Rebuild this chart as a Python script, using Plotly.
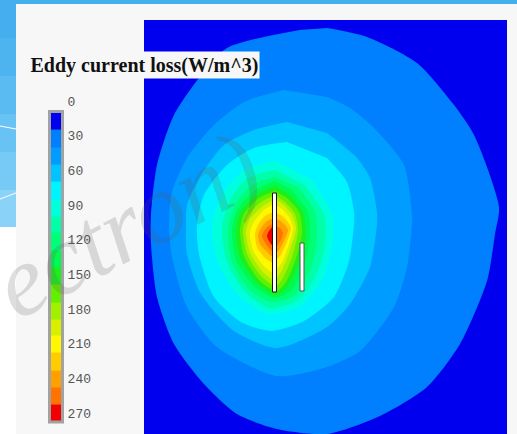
import plotly.graph_objects as go

W, H = 517, 434

# legend
legend_ticks = [0, 30, 60, 90, 120, 150, 180, 210, 240, 270]
legend_edges = [10, 25, 40, 55, 70, 85, 100, 114, 129, 144, 159, 174, 189, 203, 218, 233, 248, 263, 277]
band_colors = ["#0000ee", "#0080ff", "#009cff", "#00c4ff", "#00f4ff", "#00ffdc", "#00ffa8", "#00ff78",
               "#00fa50", "#1cf01c", "#62f000", "#a0f000", "#d8f000", "#fff800", "#ffcc00", "#ffa000",
               "#ff7400", "#f00000"]
band_values = [7, 22, 37, 52, 67, 82, 97, 112, 127, 142, 157, 172, 187, 202, 217, 232, 247, 262]

# level boundaries (image coordinates), outermost first
b15_x = [300, 227, 199, 174, 157, 151, 151, 157, 174, 204, 237, 277, 327, 380, 427, 460, 487, 495, 499, 474, 454, 417, 367, 327]
b15_y = [30, 48, 78, 115, 165, 215, 244, 297, 344, 384, 414, 429, 434, 416, 387, 344, 281, 234, 207, 135, 105, 63, 37, 28]
b30_x = [284, 244, 214, 187, 172, 169, 172, 187, 217, 277, 327, 360, 394, 407, 412, 412, 404, 374, 350, 327]
b30_y = [90, 102, 125, 158, 192, 225, 257, 307, 347, 376, 367, 351, 307, 267, 224, 215, 165, 128, 108, 97]
b45_x = [287, 254, 224, 201, 187, 186, 187, 201, 234, 277, 327, 350, 370, 377, 377, 370, 357, 327]
b45_y = [122, 130, 145, 175, 205, 225, 254, 294, 331, 348, 327, 304, 267, 224, 212, 178, 158, 133]
b60_x = [287, 254, 227, 204, 197, 199, 214, 241, 271, 304, 334, 349, 354, 354, 347, 327]
b60_y = [142, 148, 165, 195, 225, 254, 297, 322, 331, 321, 297, 261, 224, 212, 182, 158]
b75_x = [275, 245, 222, 212, 218, 238, 268, 300, 322, 332, 332, 312]
b75_y = [161, 170, 195, 228, 262, 295, 314, 306, 280, 245, 215, 180]
b90_x = [275, 248, 230, 222, 227, 245, 270, 298, 316, 325, 324, 305]
b90_y = [170, 178, 200, 228, 262, 292, 308, 300, 275, 245, 215, 185]
b105_x = [275, 252, 235, 228, 232, 250, 272, 294, 310, 317, 315, 298]
b105_y = [177, 185, 205, 230, 262, 290, 302, 296, 270, 240, 212, 187]
b120_x = [275, 255, 238, 232, 236, 255, 275, 292, 305, 310, 308, 292]
b120_y = [181, 190, 208, 230, 260, 287, 298, 290, 262, 240, 212, 190]
b135_x = [275, 257, 241, 236, 240, 258, 276, 288, 300, 306, 303, 289]
b135_y = [186, 194, 211, 230, 258, 284, 295, 286, 260, 236, 212, 194]
b150_x = [275, 259, 244, 240, 244, 260, 277, 286, 296, 302, 299, 287]
b150_y = [191, 198, 214, 230, 256, 281, 291, 282, 258, 232, 212, 198]
b165_x = [275, 261, 247, 243, 247, 261, 276, 284, 293, 298, 295, 285]
b165_y = [195, 202, 217, 230, 254, 276, 286, 276, 254, 230, 214, 202]
b180_x = [275, 263, 250, 246, 250, 262, 274, 282, 290, 296, 292, 284]
b180_y = [199, 206, 219, 232, 252, 271, 280, 270, 250, 228, 215, 205]
b195_x = [274, 264, 254, 250, 253, 263, 272, 281, 288, 293, 289, 282]
b195_y = [204, 210, 222, 233, 250, 265, 272, 264, 247, 228, 217, 209]
b210_x = [274, 265, 258, 255, 257, 265, 272, 280, 286, 291, 287, 281]
b210_y = [212, 216, 225, 234, 247, 258, 262, 256, 244, 228, 221, 215]
b225_x = [274, 267, 261, 258, 260, 267, 272, 279, 284, 288, 284, 279]
b225_y = [218, 221, 228, 235, 244, 252, 256, 250, 241, 230, 224, 220]
b240_x = [272, 267, 264, 262, 264, 268, 272, 277, 281, 283, 280, 276]
b240_y = [224, 227, 231, 236, 241, 247, 251, 246, 240, 233, 228, 226]
b255_x = [272, 269, 267, 269, 272, 275, 276, 275]
b255_y = [227, 231, 236, 241, 245, 241, 235, 231]

boundaries = [(b15_x, b15_y), (b30_x, b30_y), (b45_x, b45_y), (b60_x, b60_y), (b75_x, b75_y), (b90_x, b90_y),
              (b105_x, b105_y), (b120_x, b120_y), (b135_x, b135_y), (b150_x, b150_y), (b165_x, b165_y),
              (b180_x, b180_y), (b195_x, b195_y), (b210_x, b210_y), (b225_x, b225_y), (b240_x, b240_y),
              (b255_x, b255_y)]

def px(x):
    return x / W
def py(y):
    return 1 - y / H

fig = go.Figure()

for i, (bx, by) in enumerate(boundaries):
    fig.add_trace(go.Scatter(x=bx, y=by, mode="lines", fill="toself", fillcolor=band_colors[i + 1],
                             line=dict(width=0, shape="spline", smoothing=0.7),
                             hoverinfo="skip", showlegend=False))

fig.add_trace(go.Heatmap(x=[0, 1], y=legend_edges, z=[[v] for v in band_values], xaxis="x2", yaxis="y2",
                         colorscale=[[i / 17, c] for i, c in enumerate(band_colors)],
                         zmin=band_values[0], zmax=band_values[-1], showscale=False, hoverinfo="skip"))

panel = "#f7f7f7"
shapes = []
# slide backdrop
strip = ["#44aeee", "#4db4f0", "#5abaf2", "#68c2f4", "#78caf6", "#8ad2f8"]
for k, c in enumerate(strip):
    shapes.append(dict(type="rect", xref="paper", yref="paper", layer="below", x0=0, x1=px(16),
                       y0=py(k * 38), y1=py(min((k + 1) * 38, 227)), fillcolor=c, line_width=0))
shapes.append(dict(type="rect", xref="paper", yref="paper", layer="below", x0=0, x1=1, y0=py(0), y1=py(4),
                   fillcolor="#44aeee", line_width=0))
shapes.append(dict(type="rect", xref="paper", yref="paper", layer="below", x0=0, x1=px(16), y0=py(227), y1=py(H),
                   fillcolor="#ffffff", line_width=0))
for (a, b) in [(126, 129), (199, 193)]:
    shapes.append(dict(type="line", xref="paper", yref="paper", layer="below", x0=0, x1=px(16), y0=py(a), y1=py(b),
                       line=dict(color="#ffffff", width=1)))
# field background
shapes.append(dict(type="rect", xref="paper", yref="paper", layer="below", x0=px(144), x1=px(507), y0=0, y1=py(20),
                   fillcolor="#0000ee", line_width=0))
# legend frame
shapes.append(dict(type="rect", xref="paper", yref="paper", layer="above", x0=px(49.5), x1=px(62.5),
                   y0=py(111.5), y1=py(422), line=dict(color="#a2a2a2", width=3), fillcolor="rgba(0,0,0,0)"))
# conductors
shapes.append(dict(type="rect", xref="x", yref="y", layer="above", x0=272.5, x1=276.5, y0=193, y1=292,
                   fillcolor="#ffffff", line=dict(color="#111111", width=1)))
shapes.append(dict(type="rect", xref="x", yref="y", layer="above", x0=300, x1=304, y0=243, y1=291,
                   fillcolor="#ffffff", line=dict(color="#555555", width=1)))

annotations = [
    dict(text="ectron)", x=px(127), y=py(224), xref="paper", yref="paper", showarrow=False, textangle=-28,
         font=dict(family="Liberation Serif", size=100, color="rgba(90,90,90,0.2)", style="italic"),
         xanchor="center", yanchor="middle"),
    dict(text="<b>Eddy current loss(W/m^3)</b>", x=px(144), y=py(65), xref="paper", yref="paper", showarrow=False,
         font=dict(family="Liberation Serif", size=20, color="#111111"), bgcolor=panel, xanchor="center",
         yanchor="middle", width=229, height=26, borderpad=0),
]

fig.update_layout(
    width=W, height=H, margin=dict(l=0, r=0, t=0, b=0), autosize=False,
    paper_bgcolor=panel, plot_bgcolor="rgba(0,0,0,0)", showlegend=False, hovermode=False,
    shapes=shapes, annotations=annotations,
    xaxis=dict(domain=[px(144), px(507)], range=[144, 507], visible=False, fixedrange=True),
    yaxis=dict(domain=[0, py(20)], range=[434, 20], visible=False, fixedrange=True),
    xaxis2=dict(domain=[px(51), px(61)], range=[0, 1], visible=False, anchor="y2", fixedrange=True),
    yaxis2=dict(domain=[0, 1], range=[288.2, -87.4], anchor="x2", side="right", tickmode="array",
                tickvals=legend_ticks, ticktext=[str(t) for t in legend_ticks], ticks="outside", ticklen=3,
                tickcolor="rgba(0,0,0,0)", showgrid=False, zeroline=False, showline=False, fixedrange=True,
                tickfont=dict(family="Liberation Mono", size=13, color="#555555")),
)
fig.write_html("out.html", config=dict(displayModeBar=False),
               post_script="document.body.style.margin='0';document.body.style.overflow='hidden';")
